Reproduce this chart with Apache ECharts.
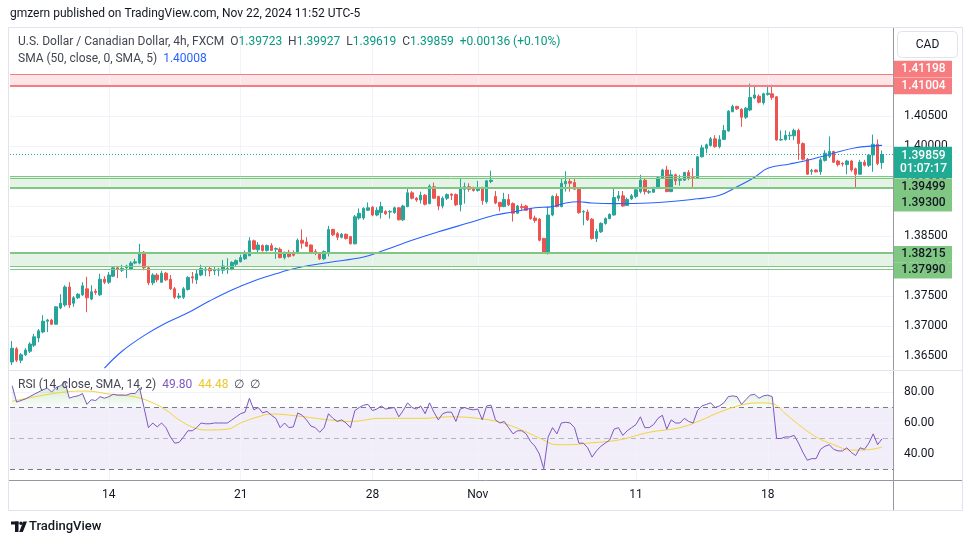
<!DOCTYPE html>
<html>
<head>
<meta charset="utf-8">
<title>USDCAD 4h</title>
<script src="https://cdn.jsdelivr.net/npm/echarts@6/dist/echarts.min.js"></script>
<style>
html,body{margin:0;padding:0;background:#fff;}
#chart{width:970px;height:545px;}
</style>
</head>
<body>
<div id="chart"></div>
<script>
// ---------- DATA ----------
const open = [
1.3640,1.3662,1.3643,1.3652,1.3658,1.3668,1.3680,1.3690,1.3708,1.3710,
1.3703,1.3730,1.3735,1.3765,1.3738,1.3747,1.3752,1.3762,1.3745,1.3758,
1.3752,1.3778,1.3773,1.3783,1.3797,1.3793,1.3797,1.3795,1.3805,1.3805,
1.3823,1.3797,1.3772,1.3785,1.3773,1.3788,1.3778,1.3762,1.3748,1.3748,
1.3761,1.3782,1.3777,1.3785,1.3793,1.3796,1.3792,1.3793,1.3793,1.3794,
1.3794,1.3803,1.3807,1.3812,1.3817,1.3842,1.3827,1.3834,1.3826,1.3834,
1.3828,1.3828,1.3814,1.3823,1.3822,1.3821,1.3843,1.3840,1.3835,1.3824,
1.3821,1.3812,1.3821,1.3861,1.3854,1.3848,1.3853,1.3849,1.3837,1.3880,
1.3880,1.3893,1.3898,1.3885,1.3889,1.3891,1.3890,1.3889,1.3897,1.3877,
1.3899,1.3922,1.3913,1.3910,1.3918,1.3904,1.3932,1.3916,1.3900,1.3913,
1.3920,1.3919,1.3902,1.3928,1.3932,1.3931,1.3926,1.3931,1.3907,1.3941,
1.3916,1.3906,1.3899,1.3911,1.3904,1.3888,1.3899,1.3900,1.3896,1.3880,
1.3878,1.3846,1.3822,1.3885,1.3916,1.3899,1.3937,1.3941,1.3939,1.3929,
1.3890,1.3890,1.3878,1.3846,1.3857,1.3871,1.3879,1.3885,1.3913,1.3917,
1.3901,1.3912,1.3916,1.3924,1.3943,1.3923,1.3923,1.3931,1.3946,1.3960,
1.3924,1.3952,1.3943,1.3943,1.3956,1.3947,1.3946,1.3982,1.3996,1.4001,
1.4012,1.3999,1.4011,1.4025,1.4057,1.4066,1.4061,1.4048,1.4060,1.4080,
1.4083,1.4072,1.4086,1.4087,1.4082,1.4010,1.4011,1.4017,1.4017,1.4026,
1.4004,1.3978,1.3958,1.3960,1.3957,1.3976,1.3983,1.3991,1.3975,1.3971,
1.3969,1.3975,1.3962,1.3953,1.3973,1.3968,1.3985,1.4003,1.39723];
const high = [
1.3675,1.3665,1.3655,1.3663,1.3673,1.3687,1.3695,1.3718,1.3712,1.3712,
1.3733,1.3753,1.3768,1.3773,1.3750,1.3755,1.3773,1.3782,1.3768,1.3762,
1.3787,1.3783,1.3790,1.3800,1.3800,1.3802,1.3802,1.3808,1.3812,1.3837,
1.3825,1.3800,1.3788,1.3788,1.3792,1.3790,1.3785,1.3765,1.3755,1.3765,
1.3783,1.3790,1.3795,1.3802,1.3799,1.3800,1.3799,1.3797,1.3810,1.3813,
1.3808,1.3811,1.3819,1.3826,1.3848,1.3844,1.3840,1.3836,1.3836,1.3838,
1.3831,1.3831,1.3824,1.3827,1.3826,1.3846,1.3861,1.3848,1.3836,1.3828,
1.3823,1.3826,1.3867,1.3862,1.3857,1.3855,1.3854,1.3850,1.3885,1.3896,
1.3898,1.3906,1.3900,1.3898,1.3907,1.3893,1.3893,1.3899,1.3898,1.3902,
1.3929,1.3925,1.3915,1.3924,1.3920,1.3936,1.3939,1.3917,1.3916,1.3921,
1.3921,1.3921,1.3946,1.3939,1.3938,1.3932,1.3942,1.3932,1.3943,1.3959,
1.3925,1.3907,1.3922,1.3920,1.3906,1.3902,1.3904,1.3902,1.3897,1.3884,
1.3880,1.3847,1.3899,1.3918,1.3921,1.3946,1.3958,1.3946,1.3945,1.3930,
1.3893,1.3894,1.3880,1.3862,1.3873,1.3881,1.3888,1.3929,1.3925,1.3925,
1.3914,1.3920,1.3930,1.3952,1.3945,1.3927,1.3932,1.3948,1.3962,1.3967,
1.3960,1.3954,1.3952,1.3957,1.3960,1.3963,1.3983,1.4002,1.4004,1.4015,
1.4018,1.4018,1.4035,1.4060,1.4069,1.4067,1.4063,1.4065,1.4104,1.4102,
1.4086,1.4089,1.4102,1.4102,1.4083,1.4026,1.4026,1.4024,1.4029,1.4029,
1.4006,1.3980,1.3962,1.3961,1.3980,1.3993,1.4016,1.3992,1.3977,1.3973,
1.3977,1.3977,1.3964,1.3977,1.3977,1.3987,1.4019,1.4011,1.39927];
const low = [
1.3635,1.3640,1.3638,1.3650,1.3655,1.3665,1.3673,1.3688,1.3690,1.3702,
1.3703,1.3728,1.3732,1.3730,1.3732,1.3745,1.3750,1.3723,1.3743,1.3752,
1.3750,1.3770,1.3770,1.3782,1.3780,1.3790,1.3780,1.3793,1.3803,1.3803,
1.3793,1.3768,1.3768,1.3773,1.3772,1.3775,1.3760,1.3745,1.3745,1.3745,
1.3759,1.3771,1.3770,1.3783,1.3783,1.3783,1.3785,1.3783,1.3787,1.3787,
1.3793,1.3800,1.3806,1.3810,1.3817,1.3827,1.3823,1.3824,1.3824,1.3825,
1.3812,1.3813,1.3811,1.3814,1.3816,1.3820,1.3829,1.3832,1.3821,1.3818,
1.3810,1.3810,1.3816,1.3850,1.3843,1.3846,1.3844,1.3836,1.3836,1.3877,
1.3877,1.3892,1.3883,1.3883,1.3879,1.3885,1.3879,1.3887,1.3876,1.3875,
1.3898,1.3911,1.3907,1.3904,1.3901,1.3903,1.3912,1.3893,1.3896,1.3910,
1.3910,1.3900,1.3891,1.3904,1.3924,1.3924,1.3924,1.3902,1.3904,1.3938,
1.3903,1.3891,1.3898,1.3900,1.3874,1.3887,1.3893,1.3892,1.3877,1.3872,
1.3841,1.3822,1.3819,1.3883,1.3898,1.3898,1.3924,1.3924,1.3927,1.3887,
1.3868,1.3875,1.3844,1.3840,1.3855,1.3869,1.3878,1.3884,1.3908,1.3899,
1.3900,1.3910,1.3913,1.3921,1.3919,1.3920,1.3922,1.3930,1.3945,1.3923,
1.3923,1.3935,1.3934,1.3942,1.3943,1.3929,1.3945,1.3981,1.3988,1.3999,
1.3997,1.3996,1.4010,1.4024,1.4057,1.4060,1.4032,1.4045,1.4058,1.4078,
1.4071,1.4069,1.4084,1.4077,1.4009,1.4009,1.4009,1.4010,1.4010,1.3977,
1.3976,1.3952,1.3952,1.3956,1.3952,1.3974,1.3980,1.3972,1.3966,1.3966,
1.3953,1.3957,1.3929,1.3952,1.3966,1.3965,1.3957,1.3968,1.39619];
const close = [
1.3663,1.3643,1.3652,1.3660,1.3670,1.3682,1.3692,1.3708,1.3710,1.3703,
1.3732,1.3738,1.3765,1.3735,1.3747,1.3753,1.3767,1.3747,1.3757,1.3756,
1.3778,1.3773,1.3785,1.3797,1.3795,1.3796,1.3800,1.3805,1.3807,1.3823,
1.3797,1.3772,1.3785,1.3777,1.3788,1.3777,1.3762,1.3748,1.3750,1.3762,
1.3781,1.3780,1.3787,1.3796,1.3795,1.3792,1.3794,1.3795,1.3800,1.3796,
1.3806,1.3809,1.3814,1.3819,1.3842,1.3828,1.3835,1.3826,1.3834,1.3826,
1.3829,1.3814,1.3823,1.3816,1.3818,1.3843,1.3838,1.3833,1.3822,1.3821,
1.3812,1.3824,1.3861,1.3852,1.3848,1.3853,1.3846,1.3837,1.3882,1.3888,
1.3896,1.3897,1.3885,1.3893,1.3899,1.3887,1.3891,1.3897,1.3877,1.3900,
1.3922,1.3913,1.3910,1.3918,1.3903,1.3933,1.3913,1.3900,1.3913,1.3919,
1.3918,1.3902,1.3929,1.3932,1.3928,1.3926,1.3929,1.3909,1.3942,1.3943,
1.3905,1.3899,1.3911,1.3902,1.3888,1.3900,1.3897,1.3893,1.3879,1.3876,
1.3843,1.3823,1.3885,1.3916,1.3899,1.3938,1.3941,1.3938,1.3928,1.3889,
1.3891,1.3877,1.3846,1.3858,1.3871,1.3879,1.3886,1.3914,1.3917,1.3900,
1.3911,1.3917,1.3927,1.3943,1.3924,1.3924,1.3931,1.3947,1.3960,1.3924,
1.3952,1.3942,1.3944,1.3956,1.3946,1.3946,1.3982,1.3997,1.4002,1.4012,
1.3999,1.4011,1.4026,1.4058,1.4066,1.4062,1.4048,1.4063,1.4081,1.4085,
1.4073,1.4087,1.4088,1.4081,1.4010,1.4011,1.4018,1.4018,1.4026,1.4004,
1.3978,1.3953,1.3959,1.3957,1.3977,1.3988,1.3991,1.3973,1.3969,1.3970,
1.3975,1.3960,1.3953,1.3973,1.3968,1.3985,1.4003,1.3971,1.39859];

// SMA(50, close, 0, SMA, 5): [candle index, value]
const smaPoints = [
[21,1.3630],[25,1.3658],[30,1.3684],[35,1.3705],[40,1.3722],[45,1.3742],[50,1.3760],[55,1.3775],
[60,1.3787],[65,1.3797],[72,1.3806],[80,1.3815],[85,1.3827],[91,1.3843],[97,1.3857],[104,1.3872],
[110,1.3885],[114,1.3890],[119,1.3897],[123,1.3899],[126,1.3905],[129,1.3907],[132,1.3905],[137,1.3904],
[145,1.3905],[156,1.3912],[161,1.3918],[165,1.3932],[169,1.3948],[172,1.3963],[177,1.3970],[182,1.3978],
[187,1.3988],[192,1.3997],[198,1.4001]];

// RSI(14) per candle
const rsi = [
84,73.5,74.5,75.5,77,78.5,80,81.5,82.5,80,
83,84,86.5,76,77,77.5,79,72,75,74.5,
77,76,77,78.5,78,78,78,79,79,82.5,
70,57,60,57.5,60,57,51,47,47.5,51,
55,55,57,60,59.5,59.5,60,60,60,60,
62,64,66,67,76,68.5,70,66.5,67.5,65,
63,57,60,57,57.5,66.5,65,62,58,57,
54,57,66,63,61,62,60,57,68,70,
71.5,72,68,69,71,69,69.5,70,64,68,
73,70,69,71,66,73,67,62,66,67,
67,61,69,70,69,68.5,69,62,71,71.5,
62,60,61,57,53,55,55,53,48,45,
40,30.5,51,57,53,60,60.5,60,57,47,
47,44,38,42,45,47,49,56,57,52,
55,57,59,64,57,57,59,63,65,56,
62,60,60,63,61,60,68,71,72,73,
70,71,73,77,77.5,77,72,75,78,78.5,
76,77.5,78,77,50,50,51,51,52,47,
41,36,37,37,43,45,46,43,42,42,
44,41,39,44,43,47,53,46,49.8];

// RSI-based MA (SMA 14) as read: [candle index, value]
const rsiMaPoints = [
[0,74],[5,76.8],[12,80],[17,80.6],[22,78.7],[28,76.8],[32,73],[35,68.4],[38,62],[41,57.4],
[44,55.5],[49,56],[52,60],[56,64],[59,65.8],[65,64.5],[72,62],[77,61],[84,63],[93,63],
[100,64],[106,63],[111,60.5],[116,55.5],[120,50.3],[124,46],[127,46],[131,47],[138,49],[145,54],
[152,57],[157,62],[161,67],[166,71.6],[170,73],[173,72.5],[176,66],[179,59],[183,51],[187,46],
[191,42.5],[195,42.8],[198,44.48]];

const dateTicks = [22, 52, 82, 106, 142, 172];
const dateTickLabels = ['14', '21', '28', 'Nov', '11', '18'];
const priceTicks = [1.365, 1.370, 1.375, 1.380, 1.385, 1.390, 1.395, 1.400, 1.405, 1.410];
const rsiTicks = [40, 60, 80];
const rsiLevels = [30, 50, 70];

const redZone = [1.41004, 1.41198];
const greenZoneUpper = [1.39300, 1.39499];
const greenZoneLower = [1.37990, 1.38215];
const greenExtraLines = [1.39460, 1.37945];
const lastPrice = 1.39859;
const countdown = '01:07:17';
const quote = {o: '1.39723', h: '1.39927', l: '1.39619', c: '1.39859', chg: '+0.00136 (+0.10%)'};
const smaLast = '1.40008';
const rsiLast = '49.80', rsiMaLast = '44.48';

// ---------- CHART ----------
const FONT = 'Roboto, "Noto Sans", Arial, sans-serif';
const N = open.length + 2;
const cats = Array.from({length: N}, (_, i) => String(i));
const candleData = open.map((o, i) => [o, close[i], low[i], high[i]]);
const rsiData = rsi.map((v, i) => [i, v]);
const obData = rsi.map((v, i) => [i, Math.max(v, 70)]);

const chart = echarts.init(document.getElementById('chart'));

const F12 = '12px ' + FONT;
const baseGraphics = [
  {type: 'rect', shape: {x: 8.5, y: 27.5, width: 954, height: 483}, style: {fill: 'none', stroke: '#E0E3EB', lineWidth: 1}, z: 50},
  {type: 'line', shape: {x1: 893.5, y1: 28, x2: 893.5, y2: 510}, style: {stroke: '#9598A1', lineWidth: 1}, z: 50},
  {type: 'line', shape: {x1: 9, y1: 480.5, x2: 962, y2: 480.5}, style: {stroke: '#9598A1', lineWidth: 1}, z: 50},
  {type: 'line', shape: {x1: 9, y1: 370.5, x2: 962, y2: 370.5}, style: {stroke: '#E0E3EB', lineWidth: 1}, z: 50},
  {type: 'text', style: {x: 10, y: 14, text: 'gmzern published on TradingView.com, Nov 22, 2024 11:52 UTC-5', font: F12, fill: '#131722', verticalAlign: 'middle'}, z: 60},
  {type: 'text', style: {x: 18, y: 42, verticalAlign: 'middle', font: F12,
    text: '{g|U.S. Dollar / Canadian Dollar, 4h, FXCM}  {g|O}{v|' + quote.o + '}  {g|H}{v|' + quote.h + '}  {g|L}{v|' + quote.l + '}  {g|C}{v|' + quote.c + '}  {v|' + quote.chg + '}',
    rich: {g: {fill: '#434651', font: F12}, v: {fill: '#089981', font: F12}}}, z: 60},
  {type: 'text', style: {x: 18, y: 59, verticalAlign: 'middle', font: F12,
    text: '{g|SMA (50, close, 0, SMA, 5)}  {b|' + smaLast + '}',
    rich: {g: {fill: '#434651', font: F12}, b: {fill: '#2962FF', font: F12}}}, z: 60},
  {type: 'text', style: {x: 18, y: 385, verticalAlign: 'middle', font: F12,
    text: '{g|RSI (14, close, SMA, 14, 2)}  {p|' + rsiLast + '}  {y|' + rsiMaLast + '}  {g|\u2205}  {g|\u2205}',
    rich: {g: {fill: '#434651', font: F12}, p: {fill: '#7E57C2', font: F12}, y: {fill: '#E9C92E', font: F12}}}, z: 60},
  {type: 'rect', shape: {x: 897.5, y: 31.5, width: 60, height: 26, r: 4}, style: {fill: '#fff', stroke: '#E0E3EB', lineWidth: 1}, z: 60},
  {type: 'text', style: {x: 927.5, y: 44.5, text: 'CAD', font: F12, fill: '#131722', align: 'center', verticalAlign: 'middle'}, z: 61},
  // TradingView logo
  {type: 'rect', shape: {x: 11, y: 521.5, width: 7.5, height: 3}, style: {fill: '#131722'}, z: 60},
  {type: 'rect', shape: {x: 15, y: 521.5, width: 3.5, height: 10.5}, style: {fill: '#131722'}, z: 60},
  {type: 'circle', shape: {cx: 21, cy: 523.2, r: 1.7}, style: {fill: '#131722'}, z: 60},
  {type: 'polygon', shape: {points: [[23.3, 521.5], [27, 521.5], [22.8, 532], [19.2, 532]]}, style: {fill: '#131722'}, z: 60},
  {type: 'text', style: {x: 29, y: 527, text: 'TradingView', font: '500 13px ' + FONT, fill: '#131722', verticalAlign: 'middle'}, z: 60}
];

const option = {
  animation: false,
  backgroundColor: '#ffffff',
  textStyle: {fontFamily: FONT},
  grid: [
    {left: 10, right: 77, top: 28, height: 342},
    {left: 10, right: 77, top: 370, height: 110}
  ],
  xAxis: [
    {type: 'category', gridIndex: 0, data: cats, boundaryGap: true,
      axisLine: {show: false}, axisTick: {show: false}, axisLabel: {show: false}, splitLine: {show: false}},
    {type: 'category', gridIndex: 1, data: cats, boundaryGap: true,
      axisLine: {show: false}, axisTick: {show: false}, splitLine: {show: false},
      axisLabel: {interval: (i) => dateTicks.indexOf(i) >= 0,
        formatter: (v, i) => { const k = dateTicks.indexOf(i); return k >= 0 ? dateTickLabels[k] : ''; },
        color: '#131722', fontSize: 12, margin: 9, fontFamily: FONT}}
  ],
  yAxis: [
    {type: 'value', gridIndex: 0, position: 'right', min: 1.36267, max: 1.41967,
      axisLine: {show: false}, axisTick: {show: false}, splitLine: {show: false},
      axisLabel: {customValues: priceTicks, formatter: (v) => v.toFixed(5), color: '#131722', fontSize: 12, margin: 11, fontFamily: FONT}},
    {type: 'value', gridIndex: 1, position: 'right', min: 23.23, max: 94.19,
      axisLine: {show: false}, axisTick: {show: false}, splitLine: {show: false},
      axisLabel: {customValues: rsiTicks, formatter: (v) => v.toFixed(2), color: '#131722', fontSize: 12, margin: 11, fontFamily: FONT}}
  ],
  series: [
    { // grid lines + zone fills (main pane)
      type: 'line', xAxisIndex: 0, yAxisIndex: 0, data: [], silent: true, z: 1,
      markLine: {silent: true, precision: 6, symbol: ['none', 'none'], z: 1, label: {show: false},
        lineStyle: {color: '#F0F3FA', width: 1, type: 'solid'},
        data: priceTicks.map(v => ({yAxis: v})).concat(dateTicks.map(i => ({xAxis: i})))},
      markArea: {silent: true, precision: 6, z: 1, data: [
        [{yAxis: redZone[0], itemStyle: {color: 'rgba(242,54,69,0.13)'}}, {yAxis: redZone[1]}],
        [{yAxis: greenZoneUpper[0], itemStyle: {color: 'rgba(76,175,80,0.15)'}}, {yAxis: greenZoneUpper[1]}],
        [{yAxis: greenZoneLower[0], itemStyle: {color: 'rgba(76,175,80,0.15)'}}, {yAxis: greenZoneLower[1]}]
      ]}
    },
    {
      type: 'candlestick', xAxisIndex: 0, yAxisIndex: 0, data: candleData, barWidth: 3, z: 3,
      itemStyle: {color: '#26A69A', color0: '#EF5350', borderColor: '#26A69A', borderColor0: '#EF5350', borderWidth: 1}
    },
    {
      type: 'line', xAxisIndex: 0, yAxisIndex: 0, data: smaPoints, smooth: 0.4, showSymbol: false, z: 4,
      lineStyle: {color: '#2962FF', width: 1.1}
    },
    { // zone edges + last price line
      type: 'line', xAxisIndex: 0, yAxisIndex: 0, data: [], silent: true, z: 5,
      markLine: {silent: true, precision: 6, symbol: ['none', 'none'], z: 6, label: {show: false},
        data: [
          {yAxis: redZone[1], lineStyle: {color: '#F77C80', width: 1, type: 'solid'}},
          {yAxis: redZone[0], lineStyle: {color: '#F77C80', width: 2, type: 'solid'}},
          {yAxis: greenZoneUpper[1], lineStyle: {color: '#81C784', width: 1, type: 'solid'}},
          {yAxis: greenExtraLines[0], lineStyle: {color: '#81C784', width: 1, type: 'solid'}},
          {yAxis: greenZoneUpper[0], lineStyle: {color: '#81C784', width: 2, type: 'solid'}},
          {yAxis: greenZoneLower[1], lineStyle: {color: '#81C784', width: 2, type: 'solid'}},
          {yAxis: greenZoneLower[0], lineStyle: {color: '#81C784', width: 1, type: 'solid'}},
          {yAxis: greenExtraLines[1], lineStyle: {color: '#81C784', width: 1, type: 'solid'}},
          {yAxis: lastPrice, lineStyle: {color: '#26A69A', width: 1, type: [1, 2]}}
        ]}
    },
    { // RSI pane helpers
      type: 'line', xAxisIndex: 1, yAxisIndex: 1, data: [], silent: true, z: 1,
      markArea: {silent: true, z: 1, data: [[{yAxis: rsiLevels[0], itemStyle: {color: 'rgba(126,87,194,0.1)'}}, {yAxis: rsiLevels[2]}]]},
      markLine: {silent: true, symbol: ['none', 'none'], z: 2, label: {show: false},
        data: rsiTicks.map(v => ({yAxis: v, lineStyle: {color: '#F0F3FA', width: 1, type: 'solid'}}))
          .concat(dateTicks.map(i => ({xAxis: i, lineStyle: {color: '#F0F3FA', width: 1, type: 'solid'}})))
          .concat([
            {yAxis: rsiLevels[2], lineStyle: {color: '#787B86', width: 1, type: [5, 4]}},
            {yAxis: rsiLevels[1], lineStyle: {color: 'rgba(120,123,134,0.5)', width: 1, type: [5, 4]}},
            {yAxis: rsiLevels[0], lineStyle: {color: '#787B86', width: 1, type: [5, 4]}}
          ])}
    },
    {
      type: 'line', xAxisIndex: 1, yAxisIndex: 1, data: obData, showSymbol: false, silent: true, z: 2,
      lineStyle: {width: 0, opacity: 0},
      areaStyle: {origin: 70, color: new echarts.graphic.LinearGradient(0, 0, 0, 1, [
        {offset: 0, color: 'rgba(76,175,80,0.4)'}, {offset: 1, color: 'rgba(76,175,80,0.04)'}])}
    },
    {
      type: 'line', xAxisIndex: 1, yAxisIndex: 1, data: rsiMaPoints, smooth: 0.4, showSymbol: false, z: 3,
      lineStyle: {color: '#F2D33A', width: 1}
    },
    {
      type: 'line', xAxisIndex: 1, yAxisIndex: 1, data: rsiData, showSymbol: false, z: 4,
      lineStyle: {color: '#7E57C2', width: 1}
    }
  ],
  graphic: baseGraphics
};

chart.setOption(option);

// price-scale badges placed through the axis scale
const yp = (v) => chart.convertToPixel({yAxisIndex: 0}, v);
function badge(v, txt, bg, fg, dy, h) {
  const cy = yp(v) + dy;
  return {type: 'group', z: 100, children: [
    {type: 'rect', z: 100, shape: {x: 894, y: cy - h / 2, width: 58, height: h}, style: {fill: bg}},
    {type: 'text', z: 101, style: {x: 923.5, y: cy, text: txt, fill: fg, font: '500 12px ' + FONT, align: 'center', verticalAlign: 'middle', lineHeight: 13}}
  ]};
}
const badges = [
  badge(redZone[1], redZone[1].toFixed(5), '#F77C80', '#ffffff', -5, 16.6),
  badge(redZone[0], redZone[0].toFixed(5), '#F77C80', '#ffffff', 0.2, 16.6),
  badge(lastPrice, lastPrice.toFixed(5) + '\n' + countdown, '#22AB94', '#ffffff', 8, 31.6),
  badge(greenZoneUpper[1], greenZoneUpper[1].toFixed(5), '#81C784', '#131722', 10.7, 16.6),
  badge(greenZoneUpper[0], greenZoneUpper[0].toFixed(5), '#81C784', '#131722', 15.3, 16.6),
  badge(greenZoneLower[1], greenZoneLower[1].toFixed(5), '#81C784', '#131722', 1, 16.2),
  badge(greenZoneLower[0], greenZoneLower[0].toFixed(5), '#81C784', '#131722', 3.8, 16.2)
];
chart.setOption({graphic: baseGraphics.concat(badges)});
</script>
</body>
</html>
